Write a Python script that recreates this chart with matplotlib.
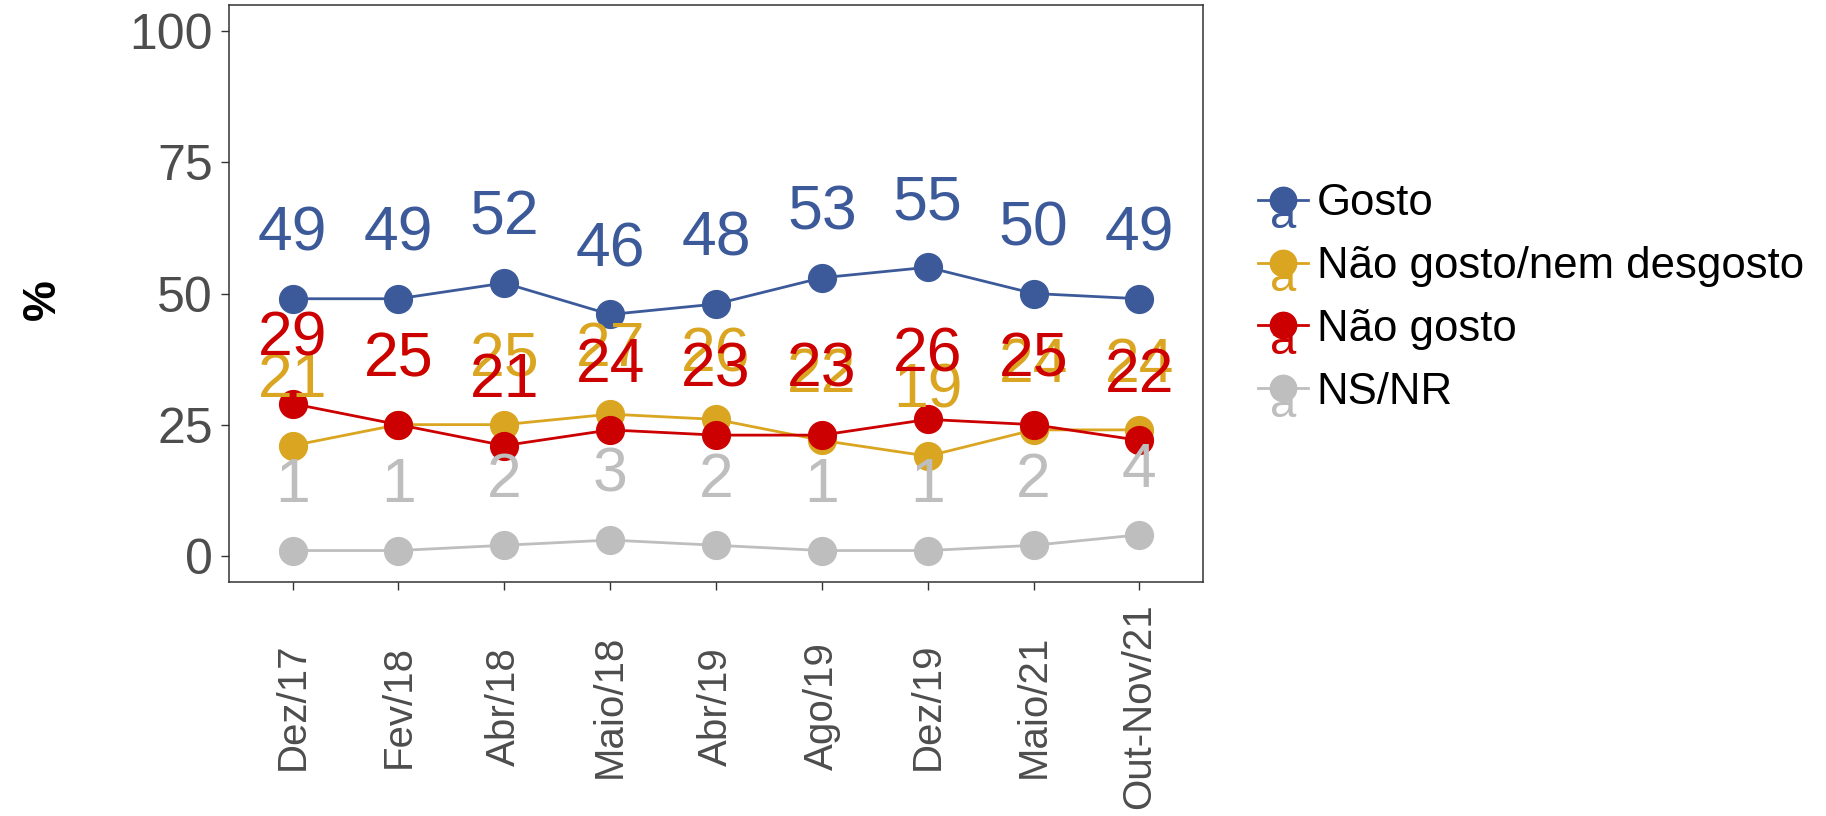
import matplotlib
matplotlib.use("Agg")
import matplotlib.pyplot as plt
from matplotlib.lines import Line2D
from matplotlib.text import Text

plt.rcParams['font.family'] = ['Liberation Sans', 'DejaVu Sans']

# data
periods = ['Dez/17', 'Fev/18', 'Abr/18', 'Maio/18', 'Abr/19',
           'Ago/19', 'Dez/19', 'Maio/21', 'Out-Nov/21']
gosto = [49, 49, 52, 46, 48, 53, 55, 50, 49]
nem = [21, 25, 25, 27, 26, 22, 19, 24, 24]
nao_gosto = [29, 25, 21, 24, 23, 23, 26, 25, 22]
nsnr = [1, 1, 2, 3, 2, 1, 1, 2, 4]

series_names = ['Gosto', 'Não gosto/nem desgosto', 'Não gosto', 'NS/NR']
series_vals = [gosto, nem, nao_gosto, nsnr]
colors = ['#3C5A9A', '#DAA520', '#CC0000', '#BEBEBE']

W, H = 1826, 816
fig = plt.figure(figsize=(W / 100, H / 100), dpi=100)
ax = fig.add_axes([229 / W, 1 - 582 / H, (1203 - 229) / W, (582 - 5) / H])

x = list(range(len(periods)))
handles = []
for name, vals, c in zip(series_names, series_vals, colors):
    ln, = ax.plot(x, vals, color=c, lw=2, marker='o', ms=20, label=name)
    handles.append(ln)
for name, vals, c in zip(series_names, series_vals, colors):
    for xi, v in zip(x, vals):
        ax.text(xi, v + 9.2, str(v), color=c, fontsize=45,
                ha='center', va='baseline', zorder=5)

ax.set_xlim(-0.6, len(periods) - 1 + 0.6)
ax.set_ylim(-5, 105)
ax.set_yticks([0, 25, 50, 75, 100])
ax.set_xticks(x)
ax.set_xticklabels(periods, rotation=90, va='center', ha='center')
ax.tick_params(axis='y', labelsize=36, colors='#333333', labelcolor='#4D4D4D',
               length=5.5, width=1, pad=6)
ax.tick_params(axis='x', labelsize=29, colors='#333333', labelcolor='#4D4D4D',
               length=5.5, width=1, pad=84)
for sp in ax.spines.values():
    sp.set_color('#333333')
    sp.set_linewidth(1.1)

fig.text(43 / W, 1 - 300 / H, '%', rotation=90, ha='center', va='center',
         fontsize=33, fontweight='bold')


class KeyHandler:
    def legend_artist(self, legend, orig_handle, fontsize, handlebox):
        x0, y0 = handlebox.xdescent, handlebox.ydescent
        w, h = handlebox.width, handlebox.height
        c = orig_handle.get_color()
        cy = y0 + h / 2
        txt = Text(x0 + w / 2, cy - 12, 'a', color=c, fontsize=34,
                   ha='center', va='center')
        line = Line2D([x0, x0 + w], [cy, cy], color=c, lw=2)
        dot = Line2D([x0 + w / 2], [cy], marker='o', ms=19, color=c, lw=0)
        handlebox.add_artist(txt)
        handlebox.add_artist(line)
        handlebox.add_artist(dot)
        return line


fig.legend(handles, series_names, handler_map={Line2D: KeyHandler()},
           loc='upper left', bbox_to_anchor=(1258 / W, 1 - 183 / H),
           frameon=False, fontsize=31.5, handlelength=1.14, handletextpad=0.2,
           labelspacing=0.5, borderpad=0, borderaxespad=0)

fig.savefig('out.png', dpi=100)
